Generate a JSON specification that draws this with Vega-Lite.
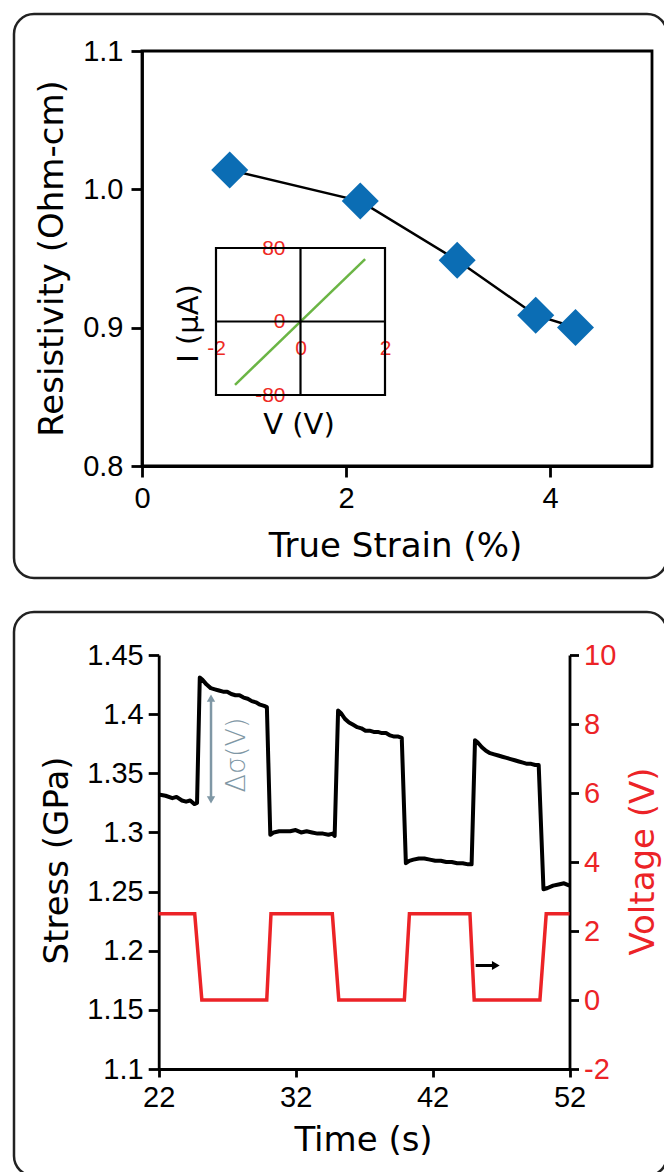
{
  "$schema": "https://vega.github.io/schema/vega-lite/v6.json",
  "background": "white",
  "padding": {"left": 12, "top": 12, "right": -4, "bottom": -4},
  "spacing": 30,
  "datasets": {
    "resistivity": [
      {"strain": 0.86, "rho": 1.014},
      {"strain": 2.14, "rho": 0.9915},
      {"strain": 3.09, "rho": 0.9487},
      {"strain": 3.86, "rho": 0.909},
      {"strain": 4.25, "rho": 0.9001}
    ],
    "iv": [
      {"V": -1.55, "I": -69},
      {"V": 1.53, "I": 68}
    ],
    "stress": [
      {"t": 22.0, "s": 1.332}, {"t": 22.5, "s": 1.331}, {"t": 23.0, "s": 1.329}, {"t": 23.3, "s": 1.33},
      {"t": 23.7, "s": 1.327}, {"t": 24.0, "s": 1.326}, {"t": 24.3, "s": 1.327}, {"t": 24.6, "s": 1.324},
      {"t": 24.8, "s": 1.325}, {"t": 25.0, "s": 1.431}, {"t": 25.2, "s": 1.429}, {"t": 25.5, "s": 1.425},
      {"t": 25.8, "s": 1.422}, {"t": 26.1, "s": 1.421}, {"t": 26.4, "s": 1.42}, {"t": 26.7, "s": 1.419},
      {"t": 27.0, "s": 1.419}, {"t": 27.3, "s": 1.417}, {"t": 27.6, "s": 1.416}, {"t": 27.9, "s": 1.416},
      {"t": 28.2, "s": 1.414}, {"t": 28.5, "s": 1.413}, {"t": 28.8, "s": 1.411}, {"t": 29.1, "s": 1.41},
      {"t": 29.4, "s": 1.408}, {"t": 29.7, "s": 1.407}, {"t": 29.9, "s": 1.406}, {"t": 30.15, "s": 1.298},
      {"t": 30.4, "s": 1.3}, {"t": 30.8, "s": 1.301}, {"t": 31.2, "s": 1.301}, {"t": 31.6, "s": 1.301},
      {"t": 32.0, "s": 1.302}, {"t": 32.4, "s": 1.3}, {"t": 32.8, "s": 1.301}, {"t": 33.2, "s": 1.3},
      {"t": 33.6, "s": 1.299}, {"t": 34.0, "s": 1.299}, {"t": 34.4, "s": 1.298}, {"t": 34.7, "s": 1.299},
      {"t": 34.85, "s": 1.297}, {"t": 35.1, "s": 1.403}, {"t": 35.3, "s": 1.401}, {"t": 35.6, "s": 1.396},
      {"t": 35.9, "s": 1.393}, {"t": 36.2, "s": 1.391}, {"t": 36.5, "s": 1.389}, {"t": 36.8, "s": 1.388},
      {"t": 37.1, "s": 1.386}, {"t": 37.4, "s": 1.386}, {"t": 37.7, "s": 1.385}, {"t": 38.0, "s": 1.385},
      {"t": 38.3, "s": 1.384}, {"t": 38.6, "s": 1.384}, {"t": 38.9, "s": 1.382}, {"t": 39.2, "s": 1.381},
      {"t": 39.5, "s": 1.381}, {"t": 39.75, "s": 1.38}, {"t": 40.05, "s": 1.274}, {"t": 40.3, "s": 1.276},
      {"t": 40.6, "s": 1.277}, {"t": 41.0, "s": 1.278}, {"t": 41.4, "s": 1.278}, {"t": 41.8, "s": 1.277},
      {"t": 42.2, "s": 1.276}, {"t": 42.6, "s": 1.276}, {"t": 43.0, "s": 1.275}, {"t": 43.4, "s": 1.275},
      {"t": 43.8, "s": 1.274}, {"t": 44.2, "s": 1.274}, {"t": 44.6, "s": 1.273}, {"t": 44.85, "s": 1.273},
      {"t": 45.1, "s": 1.378}, {"t": 45.3, "s": 1.376}, {"t": 45.6, "s": 1.372}, {"t": 45.9, "s": 1.369},
      {"t": 46.2, "s": 1.367}, {"t": 46.5, "s": 1.366}, {"t": 46.8, "s": 1.365}, {"t": 47.1, "s": 1.364},
      {"t": 47.4, "s": 1.363}, {"t": 47.7, "s": 1.362}, {"t": 48.0, "s": 1.361}, {"t": 48.3, "s": 1.36},
      {"t": 48.6, "s": 1.359}, {"t": 48.9, "s": 1.358}, {"t": 49.2, "s": 1.358}, {"t": 49.5, "s": 1.357},
      {"t": 49.75, "s": 1.357}, {"t": 50.1, "s": 1.252}, {"t": 50.4, "s": 1.253}, {"t": 50.8, "s": 1.255},
      {"t": 51.2, "s": 1.256}, {"t": 51.6, "s": 1.257}, {"t": 52.0, "s": 1.255}
    ],
    "voltage": [
      {"t": 22.0, "v": 2.5}, {"t": 24.63, "v": 2.5}, {"t": 25.15, "v": 0}, {"t": 29.89, "v": 0},
      {"t": 30.2, "v": 2.5}, {"t": 34.68, "v": 2.5}, {"t": 35.15, "v": 0}, {"t": 39.94, "v": 0},
      {"t": 40.31, "v": 2.5}, {"t": 44.73, "v": 2.5}, {"t": 45.04, "v": 0}, {"t": 49.84, "v": 0},
      {"t": 50.3, "v": 2.5}, {"t": 52.0, "v": 2.5}
    ],
    "dsigmaRule": [{"t": 25.82, "s": 1.414, "s2": 1.327}],
    "dsigmaHeads": [
      {"t": 25.82, "s": 1.4135, "dir": "triangle-up"},
      {"t": 25.82, "s": 1.3275, "dir": "triangle-down"}
    ],
    "dsigmaText": [{"t": 27.72, "s": 1.3655, "label": "Δσ(V)"}],
    "arrowRule": [{"t": 45.15, "t2": 46.55, "v": 1.0}],
    "arrowHead": [{"t": 46.62, "v": 1.0}]
  },
  "vconcat": [
    {
      "width": 653,
      "height": 564,
      "layer": [
        {
          "layer": [
            {
              "data": {"name": "resistivity"},
              "mark": {"type": "line", "color": "black", "strokeWidth": 2.5},
              "encoding": {
                "x": {
                  "field": "strain", "type": "quantitative",
                  "scale": {"domain": [0, 5], "range": [128, 638], "nice": false, "zero": false},
                  "axis": {
                    "orient": "bottom", "offset": -112, "values": [0, 2, 4], "format": "d",
                    "tickSize": 11, "labelPadding": 7,
                    "title": "True Strain (%)", "titleX": 381, "titleY": 90,
                    "titleBaseline": "alphabetic", "titleAlign": "center", "titleAngle": 0
                  }
                },
                "y": {
                  "field": "rho", "type": "quantitative",
                  "scale": {"domain": [0.8, 1.1], "range": [452, 37], "nice": false, "zero": false},
                  "axis": {
                    "orient": "left", "offset": -128, "values": [0.8, 0.9, 1.0, 1.1], "format": ".1f",
                    "tickSize": 11, "labelPadding": 8,
                    "title": "Resistivity (Ohm-cm)", "titleX": -80, "titleY": 244,
                    "titleAngle": 270, "titleAlign": "center", "titleBaseline": "alphabetic"
                  }
                }
              }
            },
            {
              "data": {"values": [{}]},
              "mark": {"type": "rect", "fillOpacity": 0, "stroke": "black", "strokeWidth": 2.8},
              "encoding": {
                "x": {"datum": 0, "type": "quantitative"},
                "x2": {"datum": 5},
                "y": {"datum": 0.8, "type": "quantitative"},
                "y2": {"datum": 1.1}
              }
            },
            {
              "data": {"name": "resistivity"},
              "mark": {"type": "point", "shape": "diamond", "filled": true, "size": 1370, "color": "#0b6db4", "opacity": 1},
              "encoding": {
                "x": {"field": "strain", "type": "quantitative"},
                "y": {"field": "rho", "type": "quantitative"}
              }
            }
          ]
        },
        {
          "layer": [
            {
              "data": {"name": "iv"},
              "mark": {"type": "line", "color": "#6bb545", "strokeWidth": 2.5},
              "encoding": {
                "x": {
                  "field": "V", "type": "quantitative",
                  "scale": {"domain": [-2, 2], "range": [202, 371], "nice": false, "zero": false},
                  "axis": {
                    "orient": "bottom", "offset": -256, "values": [-2, 0, 2], "format": "d",
                    "domain": false, "ticks": false, "tickSize": 0, "labelPadding": 15.5,
                    "labelFontSize": 21, "labelColor": "#ee2a24",
                    "labelExpr": "replace(datum.label, '−', '-')",
                    "title": "V (V)", "titleFontSize": 29, "titleX": 284.5, "titleY": 111.5,
                    "titleBaseline": "alphabetic", "titleAlign": "center", "titleAngle": 0
                  }
                },
                "y": {
                  "field": "I", "type": "quantitative",
                  "scale": {"domain": [-80, 80], "range": [381, 234], "nice": false, "zero": false},
                  "axis": {
                    "orient": "left", "offset": -286.5, "values": [-80, 0, 80], "format": "d",
                    "domain": false, "ticks": false, "tickSize": 0, "labelPadding": 15.5,
                    "labelFontSize": 21, "labelColor": "#ee2a24",
                    "labelExpr": "replace(datum.label, '−', '-')",
                    "title": "I (μA)", "titleFontSize": 29, "titleX": -103.5, "titleY": 309,
                    "titleAngle": 270, "titleAlign": "center", "titleBaseline": "alphabetic"
                  }
                }
              }
            },
            {
              "data": {"values": [{}]},
              "mark": {"type": "rect", "fillOpacity": 0, "stroke": "black", "strokeWidth": 2.2},
              "encoding": {
                "x": {"datum": -2, "type": "quantitative"},
                "x2": {"datum": 2},
                "y": {"datum": -80, "type": "quantitative"},
                "y2": {"datum": 80}
              }
            },
            {
              "data": {"values": [{}]},
              "mark": {"type": "rule", "color": "black", "strokeWidth": 2.2},
              "encoding": {
                "x": {"datum": 0, "type": "quantitative"},
                "y": {"datum": -80, "type": "quantitative"},
                "y2": {"datum": 80}
              }
            },
            {
              "data": {"values": [{}]},
              "mark": {"type": "rule", "color": "black", "strokeWidth": 2.2},
              "encoding": {
                "x": {"datum": -2, "type": "quantitative"},
                "x2": {"datum": 2},
                "y": {"datum": 0, "type": "quantitative"}
              }
            }
          ]
        }
      ],
      "resolve": {"scale": {"x": "independent", "y": "independent"}}
    },
    {
      "width": 653,
      "height": 564,
      "layer": [
        {
          "layer": [
            {
              "data": {"name": "stress"},
              "mark": {"type": "line", "color": "black", "strokeWidth": 4, "strokeJoin": "round"},
              "encoding": {
                "x": {
                  "field": "t", "type": "quantitative",
                  "scale": {"domain": [22, 52], "range": [144.7, 555.5], "nice": false, "zero": false},
                  "axis": {
                    "orient": "bottom", "offset": -107, "values": [22, 32, 42, 52], "format": "d",
                    "tickSize": 8, "labelPadding": 6,
                    "title": "Time (s)", "titleX": 349, "titleY": 81,
                    "titleBaseline": "alphabetic", "titleAlign": "center", "titleAngle": 0
                  }
                },
                "y": {
                  "field": "s", "type": "quantitative",
                  "scale": {"domain": [1.1, 1.45], "range": [457, 43], "nice": false, "zero": false},
                  "axis": {
                    "orient": "left", "offset": -144.7,
                    "values": [1.1, 1.15, 1.2, 1.25, 1.3, 1.35, 1.4, 1.45], "format": ".2~f",
                    "tickSize": 10.5, "labelPadding": 5,
                    "title": "Stress (GPa)", "titleX": -91, "titleY": 248,
                    "titleAngle": 270, "titleAlign": "center", "titleBaseline": "alphabetic"
                  }
                }
              }
            },
            {
              "data": {"name": "dsigmaRule"},
              "mark": {"type": "rule", "color": "#7f97a5", "strokeWidth": 2.5},
              "encoding": {
                "x": {"field": "t", "type": "quantitative"},
                "y": {"field": "s", "type": "quantitative"},
                "y2": {"field": "s2"}
              }
            },
            {
              "data": {"name": "dsigmaHeads"},
              "mark": {"type": "point", "filled": true, "size": 70, "color": "#7f97a5", "opacity": 1},
              "encoding": {
                "x": {"field": "t", "type": "quantitative"},
                "y": {"field": "s", "type": "quantitative"},
                "shape": {"field": "dir", "type": "nominal", "scale": null, "legend": null}
              }
            },
            {
              "data": {"name": "dsigmaText"},
              "mark": {"type": "text", "angle": 270, "font": "DejaVu Sans", "fontSize": 27, "fontWeight": 300, "color": "#7f97a5", "align": "center", "baseline": "middle"},
              "encoding": {
                "x": {"field": "t", "type": "quantitative"},
                "y": {"field": "s", "type": "quantitative"},
                "text": {"field": "label"}
              }
            }
          ]
        },
        {
          "layer": [
            {
              "data": {"name": "voltage"},
              "mark": {"type": "line", "color": "#ec2327", "strokeWidth": 3.5, "strokeJoin": "miter"},
              "encoding": {
                "x": {"field": "t", "type": "quantitative"},
                "y": {
                  "field": "v", "type": "quantitative",
                  "scale": {"domain": [-2, 10], "range": [457, 43], "nice": false, "zero": false},
                  "axis": {
                    "orient": "right", "offset": -97.5,
                    "values": [-2, 0, 2, 4, 6, 8, 10], "format": "d",
                    "labelExpr": "replace(datum.label, '−', '-')",
                    "tickSize": 9, "labelPadding": 5, "labelColor": "#ec2327",
                    "title": "Voltage (V)", "titleColor": "#ec2327", "titleX": 83.5, "titleY": 249,
                    "titleAngle": 270, "titleAlign": "center", "titleBaseline": "alphabetic"
                  }
                }
              }
            },
            {
              "data": {"name": "arrowRule"},
              "mark": {"type": "rule", "color": "black", "strokeWidth": 3},
              "encoding": {
                "x": {"field": "t", "type": "quantitative"},
                "x2": {"field": "t2"},
                "y": {"field": "v", "type": "quantitative"}
              }
            },
            {
              "data": {"name": "arrowHead"},
              "mark": {"type": "point", "shape": "triangle-right", "filled": true, "size": 80, "color": "black", "opacity": 1},
              "encoding": {
                "x": {"field": "t", "type": "quantitative"},
                "y": {"field": "v", "type": "quantitative"}
              }
            }
          ]
        }
      ],
      "resolve": {"scale": {"y": "independent"}}
    }
  ],
  "config": {
    "view": {"stroke": "#222222", "strokeWidth": 2.5, "cornerRadius": 20},
    "axis": {
      "domainColor": "black", "tickColor": "black", "domainWidth": 2.8, "tickWidth": 2.8,
      "labelFont": "Liberation Sans", "labelFontSize": 29, "labelColor": "black",
      "titleFont": "DejaVu Sans", "titleFontSize": 34, "titleFontWeight": "normal", "titleColor": "black",
      "grid": false, "labelFlush": false, "labelOverlap": false, "labelBound": false
    }
  }
}
